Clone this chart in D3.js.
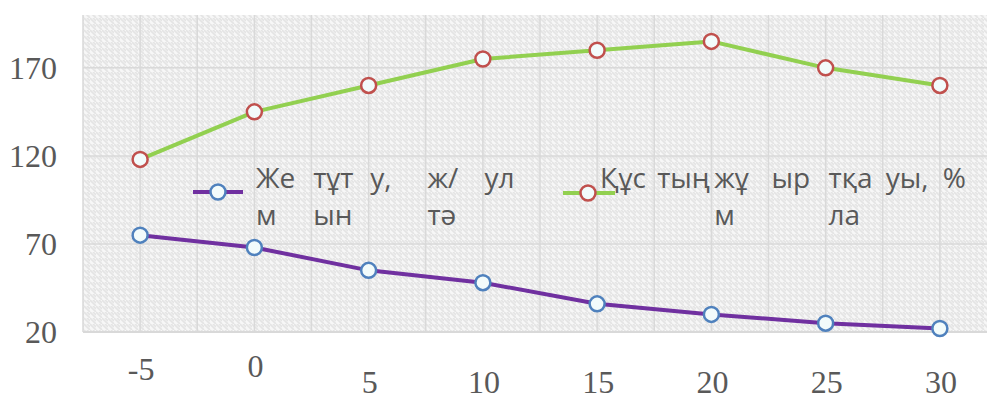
<!DOCTYPE html>
<html>
<head>
<meta charset="utf-8">
<script src="https://cdn.jsdelivr.net/npm/d3@7"></script>
<style>
  html, body { margin: 0; padding: 0; background: #fff; overflow: hidden; }
  svg { display: block; }
</style>
</head>
<body>
<svg id="chart" width="987" height="393"></svg>
<script>
// Temperature categories (°C)
const categories = ["-5", "0", "5", "10", "15", "20", "25", "30"];
// Feed consumption, g/day
const feedValues = [75, 68, 55, 48, 36, 30, 25, 22];
// Egg laying rate, %
const layingValues = [118, 145, 160, 175, 180, 185, 170, 160];
// Value axis ticks
const yTicks = [20, 70, 120, 170];
// Legend names, broken into cell fragments [first line, second line]
const feedLegend = [["Же", "м"], ["тұт", "ын"], ["у,", ""], ["ж/", "тә"], ["ул", ""]];
const layingLegend = [["Құс", ""], ["тың", ""], ["жұ", "м"], ["ыр", ""], ["тқа", "ла"], ["уы,", ""], ["%", ""]];

const svg = d3.select("#chart");
const plot = { left: 83, right: 997, top: 15, bottom: 332 };

const x = d3.scaleBand().domain(categories).range([plot.left, plot.right]).padding(0);
const cx = d => x(d) + x.bandwidth() / 2;
const y = d3.scaleLinear().domain([20, 200]).range([plot.bottom, plot.top]);

// Textured plot background
const defs = svg.append("defs");
const pat = defs.append("pattern")
  .attr("id", "tex").attr("patternUnits", "userSpaceOnUse")
  .attr("width", 6).attr("height", 6);
pat.append("rect").attr("width", 6).attr("height", 6).attr("fill", "#f7f7f7");
pat.append("path").attr("d", "M0,0 L6,6 M-3,3 L0,6 M3,-0 L6,3")
  .attr("stroke", "#e4e4e4").attr("stroke-width", 1.6);

svg.append("rect")
  .attr("x", plot.left).attr("y", plot.top)
  .attr("width", plot.right - plot.left).attr("height", plot.bottom - plot.top)
  .attr("fill", "url(#tex)");

// Vertical grid: at category edges and centres
const half = x.step() / 2;
const vLines = d3.range(0, categories.length * 2 + 1).map(i => plot.left + i * half);
svg.append("g").selectAll("line").data(vLines).join("line")
  .attr("x1", d => d).attr("x2", d => d)
  .attr("y1", plot.top).attr("y2", plot.bottom)
  .attr("stroke", "#d9d9d9").attr("stroke-width", 1.5);

// Horizontal grid
svg.append("g").selectAll("line").data(yTicks).join("line")
  .attr("x1", plot.left).attr("x2", plot.right)
  .attr("y1", d => y(d)).attr("y2", d => y(d))
  .attr("stroke", "#d9d9d9").attr("stroke-width", d => d === 20 ? 2 : 1.5);

// Y axis labels
const yAxis = d3.axisLeft(y).tickValues(yTicks).tickSize(0).tickPadding(0);
const gy = svg.append("g").attr("transform", "translate(57,0)").call(yAxis);
gy.select(".domain").remove();
gy.selectAll("text")
  .attr("font-family", "'Liberation Serif', 'Times New Roman', serif")
  .attr("font-size", 32).attr("fill", "#595959").attr("dy", "0.34em");

// X axis labels (first two sit a little higher)
const xAxis = d3.axisBottom(x).tickSize(0).tickPadding(0);
const gx = svg.append("g").attr("transform", "translate(1,0)").call(xAxis);
gx.select(".domain").remove();
gx.selectAll("text")
  .attr("font-family", "'Liberation Serif', 'Times New Roman', serif")
  .attr("font-size", 32).attr("fill", "#595959")
  .attr("y", (d, i) => i === 0 ? 380 : i === 1 ? 377 : 393)
  .attr("dy", 0);

// Series lines
const line = d3.line().x((d, i) => cx(categories[i])).y(d => y(d));
const series = [
  { values: layingValues, color: "#92d050", marker: "#c0504d" },
  { values: feedValues, color: "#7030a0", marker: "#4f81bd" }
];
series.forEach(s => {
  svg.append("path").datum(s.values)
    .attr("d", line).attr("fill", "none")
    .attr("stroke", s.color).attr("stroke-width", 4).attr("stroke-linejoin", "round");
  svg.append("g").selectAll("circle").data(s.values).join("circle")
    .attr("cx", (d, i) => cx(categories[i])).attr("cy", d => y(d))
    .attr("r", 7.5).attr("fill", "#f2fbfb")
    .attr("stroke", s.marker).attr("stroke-width", 2.5);
});

// Legend
const legendFont = "'Open Sans', 'Noto Sans', sans-serif";
function legendEntry(lx1, lx2, mx, ly, color, marker, textX, frags) {
  const g = svg.append("g");
  g.append("line").attr("x1", lx1).attr("x2", lx2).attr("y1", ly).attr("y2", ly)
    .attr("stroke", color).attr("stroke-width", 4);
  g.append("circle").attr("cx", mx).attr("cy", ly).attr("r", 7.5)
    .attr("fill", "#f2fbfb").attr("stroke", marker).attr("stroke-width", 2.5);
  frags.forEach((f, i) => {
    f.forEach((t, row) => {
      if (!t) return;
      g.append("text")
        .attr("x", textX + i * half).attr("y", 188 + row * 37)
        .attr("font-family", legendFont).attr("font-size", 28)
        .attr("fill", "#595959").text(t);
    });
  });
}
legendEntry(193, 243, 218, 192, "#7030a0", "#4f81bd", 256, feedLegend);
legendEntry(563, 615, 588, 193, "#92d050", "#c0504d", 600, layingLegend);
</script>
</body>
</html>
